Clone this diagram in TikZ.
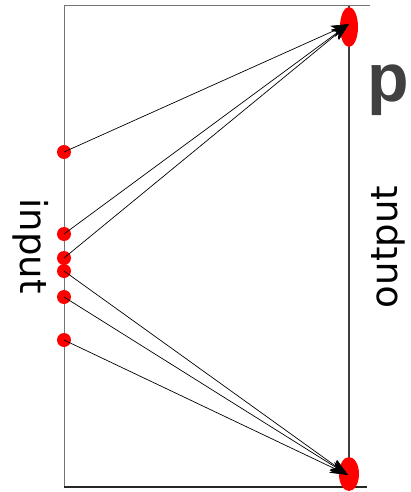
\documentclass[tikz,border=0pt]{standalone}
\usepackage{fontspec}
\setmainfont{DejaVu Sans}
\newfontfamily\boldlab{Liberation Sans}
\usetikzlibrary{arrows.meta,shapes.geometric}
\definecolor{dotred}{RGB}{255,0,0}
\definecolor{labgray}{RGB}{64,64,64}
\tikzset{
  dot/.style={circle,fill=dotred,draw=none,minimum size=14pt,inner sep=0pt},
  blob/.style={ellipse,fill=dotred,draw=none,inner sep=0pt},
  link/.style={draw=black,line width=0.7pt,-{Stealth[length=18pt,width=12pt,inset=5pt]}},
  axisline/.style={draw=black!55,line width=1pt},
  lab/.style={font=\fontsize{37}{40}\selectfont,inner sep=0pt}
}
\begin{document}
\begin{tikzpicture}[x=1pt,y=-1pt]
\useasboundingbox (0,0) rectangle (410,492);
% frame
\draw[axisline] (64,6) -- (64,487);
\draw[axisline] (64,6) -- (370,6);
\draw[draw=black!75,line width=1.2pt] (349,6) -- (349,487);
\draw[draw=black!85,line width=1.5pt] (64,487) -- (367,487);
% dots
\node[dot] (a1) at (64,152) {};
\node[dot] (a2) at (64,234) {};
\node[dot] (a3) at (64,258) {};
\node[dot] (a4) at (64,271) {};
\node[dot] (a5) at (64,297) {};
\node[dot] (a6) at (64,340) {};
\node[blob,minimum width=18pt,minimum height=40pt] (top) at (349,27) {};
\node[blob,minimum width=20pt,minimum height=34pt] (bot) at (349,474) {};
\coordinate (ttip) at (349,24);
\coordinate (btip) at (348,475);
% arrows
\draw[link] (a1.center) -- (ttip);
\draw[link] (a2.center) -- (ttip);
\draw[link] (a3.center) -- (ttip);
\draw[link] (a4.center) -- (btip);
\draw[link] (a5.center) -- (btip);
\draw[link] (a6.center) -- (btip);
% labels
\node[lab,rotate=-90] (inlab) at (31,246) {input};
\node[lab,rotate=90] (outlab) at (388,247) {output};
\node[inner sep=0pt,anchor=base,text=labgray,font=\boldlab\bfseries\fontsize{68}{70}\selectfont] (plab) at (388,102) {p};
\end{tikzpicture}
\end{document}
